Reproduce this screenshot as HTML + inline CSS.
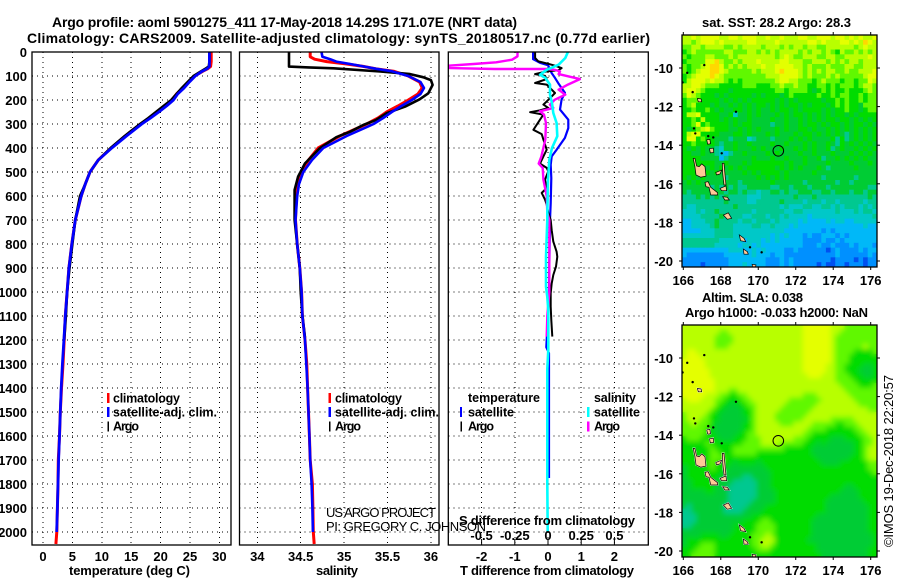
<!DOCTYPE html>
<html lang="en">
<head>
<meta charset="utf-8">
<title>Argo profile</title>
<style>
html,body{margin:0;padding:0;background:#fff;}
svg{display:block;font-family:"Liberation Sans",sans-serif;}
text{fill:#000;}
.b{font-weight:700;font-size:13px;}
.l{font-weight:700;font-size:12.5px;}
.r{font-weight:400;font-size:13px;}
</style>
</head>
<body>
<svg id="chart" width="900" height="580" viewBox="0 0 900 580" xmlns="http://www.w3.org/2000/svg">
  <rect x="0" y="0" width="900" height="580" fill="#fff"/>
  <defs>
    <clipPath id="clip-p1"><rect x="32" y="52" width="199" height="493"/></clipPath>
    <clipPath id="clip-p2"><rect x="239.5" y="52" width="199.5" height="493"/></clipPath>
    <clipPath id="clip-p3"><rect x="448.3" y="52" width="200" height="493"/></clipPath>
    <clipPath id="clip-m1"><rect x="682" y="35" width="195" height="232"/></clipPath>
    <clipPath id="clip-m2"><rect x="682" y="325" width="195" height="232"/></clipPath>
    <filter id="smooth-field" x="-5%" y="-5%" width="110%" height="110%"><feGaussianBlur stdDeviation="2.6"/></filter>
  </defs>

  <text class="b" x="52" y="27" style="font-size:14px" textLength="465" lengthAdjust="spacing">Argo profile: aoml 5901275_411 17-May-2018 14.29S 171.07E (NRT data)</text>
  <text class="b" x="27" y="43" style="font-size:14px" textLength="623" lengthAdjust="spacing">Climatology: CARS2009. Satellite-adjusted climatology: synTS_20180517.nc (0.77d earlier)</text>

  <g id="panels"></g>
  <g id="maps"></g>

  <text class="b" x="69" y="575" textLength="121" lengthAdjust="spacing">temperature (deg C)</text>
  <text class="b" x="316" y="575" textLength="42" lengthAdjust="spacing">salinity</text>
  <text class="b" x="460" y="575" textLength="174" lengthAdjust="spacing">T difference from climatology</text>
  <text class="b" x="459" y="525" textLength="176" lengthAdjust="spacing">S difference from climatology</text>

  <text class="r" x="326" y="517" textLength="110" lengthAdjust="spacing">US ARGO PROJECT</text>
  <text class="r" x="326" y="531" textLength="160" lengthAdjust="spacing">PI: GREGORY C. JOHNSON</text>

  <g>
    <rect x="107" y="393" width="2.5" height="10" fill="#f00"/>
    <text class="l" x="113" y="402.5" textLength="67" lengthAdjust="spacing">climatology</text>
    <rect x="107" y="407" width="2.5" height="10" fill="#00f"/>
    <text class="l" x="113" y="416.5" textLength="104" lengthAdjust="spacing">satellite-adj. clim.</text>
    <rect x="107.5" y="421.5" width="1.5" height="10" fill="#000"/>
    <text class="l" x="113" y="430.5" textLength="26" lengthAdjust="spacing">Argo</text>
  </g>
  <g>
    <rect x="328.5" y="393" width="2.5" height="10" fill="#f00"/>
    <text class="l" x="335" y="402.5" textLength="67" lengthAdjust="spacing">climatology</text>
    <rect x="328.5" y="407" width="2.5" height="10" fill="#00f"/>
    <text class="l" x="335" y="416.5" textLength="104" lengthAdjust="spacing">satellite-adj. clim.</text>
    <rect x="329" y="421.5" width="1.5" height="10" fill="#000"/>
    <text class="l" x="335" y="430.5" textLength="26" lengthAdjust="spacing">Argo</text>
  </g>
  <g>
    <text class="l" x="468" y="402" textLength="72" lengthAdjust="spacing">temperature</text>
    <rect x="460" y="407" width="2" height="10" fill="#00f"/>
    <text class="l" x="468" y="416.5" textLength="46" lengthAdjust="spacing">satellite</text>
    <rect x="460.5" y="421.5" width="1.5" height="10" fill="#000"/>
    <text class="l" x="468" y="430.5" textLength="26" lengthAdjust="spacing">Argo</text>
    <text class="l" x="594" y="402" textLength="42" lengthAdjust="spacing">salinity</text>
    <rect x="587" y="407" width="2.5" height="10" fill="#0ff"/>
    <text class="l" x="594" y="416.5" textLength="46" lengthAdjust="spacing">satellite</text>
    <rect x="587" y="421.5" width="2.5" height="10" fill="#f0f"/>
    <text class="l" x="594" y="430.5" textLength="26" lengthAdjust="spacing">Argo</text>
  </g>

  <text class="b" x="702" y="27" textLength="149" lengthAdjust="spacing">sat. SST: 28.2 Argo: 28.3</text>
  <text class="b" x="702" y="302" textLength="101" lengthAdjust="spacing">Altim. SLA: 0.038</text>
  <text class="b" x="685" y="317" textLength="183" lengthAdjust="spacing">Argo h1000: -0.033 h2000: NaN</text>
  <text class="r" transform="translate(893,547) rotate(-90)" x="0" y="0" textLength="172" lengthAdjust="spacing">©IMOS 19-Dec-2018 22:20:57</text>
</svg>

<script>
/* ---------- axis tick labels ---------- */
const depthTicks = [0,100,200,300,400,500,600,700,800,900,1000,1100,1200,1300,1400,1500,1600,1700,1800,1900,2000];
const temperatureTicks = [0,5,10,15,20,25,30];
const salinityTicks = [34,34.5,35,35.5,36];
const tDiffTicks = [-2,-1,0,1,2];
const sDiffTicks = [-0.5,-0.25,0,0.25,0.5];
const sDiffTickLabels = ['-0.5','-0.25','0','0.25','0.5'];
const mapLonTicks = [166,168,170,172,174,176];
const mapLatTicks = [-10,-12,-14,-16,-18,-20];

/* ---------- temperature profile ---------- */
const tempDepths = [0,20,40,60,70,80,100,125,150,175,200,225,250,275,300,350,400,450,500,550,600,700,800,900,1000,1100,1200,1300,1400,1500,1600,1700,1800,1900,2000,2050];
const tempClimatology = [28.6,28.6,28.6,28.5,28.0,27.2,25.8,24.8,23.8,22.7,21.9,20.7,19.5,18.1,16.6,14.0,11.6,9.4,8.0,7.2,6.5,5.5,4.9,4.4,4.1,3.8,3.6,3.4,3.15,2.95,2.8,2.6,2.55,2.45,2.35,2.2];
const tempSatellite = [28.3,28.3,28.3,28.3,27.9,27.1,25.9,24.9,24.0,22.9,22.2,21.0,19.7,18.3,16.8,14.2,11.7,9.4,8.0,7.2,6.5,5.5,4.9,4.4,4.1,3.8,3.55,3.3,3.1,2.95,2.8,2.65,2.55,2.45,2.33];
const tempArgo = [28.3,28.3,28.3,28.2,27.6,26.9,25.6,24.6,23.6,22.7,21.8,20.5,19.2,17.9,16.5,13.9,11.5,9.4,8.0,7.2,6.3,5.5,5.0,4.5,4.1,3.9,3.6];

/* ---------- salinity profile ---------- */
const salDepths = [0,20,30,40,50,60,70,80,100,125,150,175,200,225,250,275,300,350,400,450,500,550,600,700,800,900,1000,1100,1200,1300,1400,1500,1600,1700,1800,1900,2000,2050];
const salClimatology = [34.61,34.61,34.66,34.8,35.03,35.22,35.37,35.57,35.74,35.87,35.9,35.85,35.74,35.62,35.49,35.39,35.26,34.95,34.70,34.59,34.51,34.47,34.45,34.44,34.46,34.49,34.51,34.52,34.55,34.57,34.58,34.59,34.6,34.61,34.635,34.64,34.645,34.655];
const salSatellite = [34.74,34.75,34.84,34.91,35.07,35.22,35.37,35.55,35.74,35.88,35.92,35.88,35.78,35.66,35.55,35.45,35.34,35.03,34.76,34.63,34.53,34.48,34.46,34.44,34.46,34.49,34.51,34.52,34.55,34.565,34.58,34.59,34.6,34.61,34.625,34.635,34.64];
const salArgoDepths = [0,55,61,64,68,82,92,105,117,137,172,197,228,255,283,304,332,355,401,464,519,575,600,700,800,900,1000,1100,1190];
const salArgo = [34.365,34.365,34.365,34.59,34.88,35.45,35.76,35.91,36.0,36.02,35.97,35.87,35.7,35.49,35.37,35.22,35.07,34.91,34.72,34.55,34.47,34.43,34.43,34.43,34.46,34.49,34.5,34.52,34.55];

/* ---------- differences from climatology ---------- */
const dTSatDepths = [0,30,45,55,88,108,130,170,198,240,282,317,358,407,435,470,525,630,700,1000,1150,1230,1255,1775];
const dTSat = [-0.45,-0.45,-0.24,0,0.11,0.21,0.31,0.51,0.41,0.36,0.61,0.61,0.51,0.26,0.11,0.08,0.1,0.08,0.06,0.03,-0.02,-0.05,0.03,0.03];
const dTArgoDepths = [0,25,39,49,57,67,76,81,92,99,113,129,136,171,185,206,219,233,243,251,261,282,324,342,365,407,435,465,483,497,532,567,587,615,636,671,700,742,790,832,853,894,929,964,1005,1061,1117,1186];
const dTArgo = [-0.39,-0.39,-0.29,0.01,0.21,0.41,0.31,-0.04,-0.39,-0.09,-0.04,-0.39,-0.04,0.21,0.11,-0.04,-0.14,0.01,-0.24,-0.54,-0.14,-0.24,-0.44,-0.19,-0.14,-0.04,-0.14,-0.24,-0.04,0.01,-0.09,-0.04,-0.19,-0.09,-0.04,0.01,0.08,0.11,0.16,0.26,0.28,0.24,0.16,0.11,0.08,0.08,0.10,0.13];
const dSSatDepths = [0,25,53,74,95,108,136,178,213,254,296,351,400,449,532,671,700,853,978,1020,1075,1240,1320,1700,1800,2000];
const dSSat = [0.15,0.13,0.08,-0.01,-0.06,-0.02,0.015,0.015,0.03,0.04,0.065,0.07,0.03,0.01,0,-0.005,-0.005,-0.015,-0.015,-0.005,0.002,0.002,-0.005,-0.005,-0.005,-0.002];
const dSArgoDepths = [0,18,32,43,50,57,67,71,71,74,81,92,113,136,157,178,199,219,233,247,261,296,365,435,465,483,532,601,671,700,800,1000,1100,1186];
const dSArgo = [-0.23,-0.23,-0.27,-0.39,-0.56,-0.75,-0.74,-0.40,-0.01,0.05,0.09,0.08,0.24,0.15,0.08,0.13,0.05,0.015,0.04,-0.06,-0.03,-0.015,-0.02,-0.05,-0.07,-0.04,-0.035,-0.01,-0.005,0.01,0.01,0.01,-0.005,-0.01];

/* ---------- map fields: one hex level per 0.25 degree cell, north to south ---------- */
const sstRows = [
"889899 998899 899988 988988 899889 998998 989889",
"887899 989888 889988 889888 888998 988899 898a98",
"778878 888778 788887 888787 887887 788888 878988",
"678777 777887 778878 787888 878788 787687 787878",
"767778 877787 888888 887898 778887 788778 888898",
"677779 9a8778 788898 888998 887788 878787 887888",
"767789 aa9787 878889 889999 887877 787778 877888",
"767899 aa9877 777878 889a99 987878 788778 778889",
"678999 a98777 777777 888999 987877 787877 777899",
"689998 988767 677777 778998 877767 877767 767798",
"889987 776666 677766 677877 877667 767677 767887",
"899876 666656 666666 667767 777656 767667 666787",
"798766 656566 666565 666567 666667 667677 667677",
"677766 665656 565666 665656 566666 566767 667677",
"678666 565565 656566 565656 656566 656767 665777",
"667667 656556 656565 565665 656666 565667 665677",
"688966 665563 556565 556565 665656 565665 656666",
"667686 665656 556555 565565 565656 566566 565656",
"667967 666656 566555 545565 565665 656656 566565",
"656789 766655 656565 556565 566565 565656 565656",
"689966 665556 656555 656555 656656 565654 565656",
"699676 655545 553455 545556 565655 556464 565656",
"667666 654556 556555 565565 556565 565465 656565",
"656565 543556 555656 555655 656565 564565 565656",
"665565 543245 565555 656555 565565 556555 656565",
"666655 552455 555655 565565 556556 455656 565655",
"666666 655655 565666 666656 556555 565555 655565",
"666665 656565 656666 665656 565556 545555 565555",
"666656 565555 565656 666565 555565 555555 555555",
"656565 555455 555565 656565 555555 455555 545555",
"565655 555555 455555 565555 554555 555455 455555",
"555555 454545 445555 544554 555455 545555 555544",
"545555 555455 454434 455454 455544 554555 455455",
"444545 454544 443334 444444 544454 444444 444454",
"444444 444544 443344 444544 443444 344344 444344",
"433444 444445 444444 444343 334433 443434 443434",
"333434 454444 444344 444433 443333 333433 343443",
"333344 445444 433444 344343 333233 333333 333334",
"223334 454444 344344 434333 323222 232332 233333",
"223333 454443 333443 343332 322222 222222 222322",
"222233 344443 333333 333322 222222 121222 222222",
"333333 344443 333333 323232 221211 222121 222222",
"444444 443333 323332 323222 221111 211212 222222",
"444444 433333 233232 222222 221112 112111 212221",
"222222 222233 322323 222211 211111 101211 112122",
"211111 111222 222322 212211 111111 111211 111121",
"111111 111122 222222 111212 111111 110111 101011",
"111101 111122 232222 111212 111110 100110 111011"
];
const slaRows = [
"888888 888888 888888 888888 889999 998887 777777",
"888888 887788 888888 888888 889999 998877 777777",
"888888 877778 888888 888888 889999 998777 777777",
"888888 877778 888888 888888 889999 998777 777777",
"888888 877788 888888 888888 889999 998777 777877",
"899888 888888 888888 888888 889999 998777 766667",
"899988 888888 888888 888888 889999 998777 666666",
"999998 888888 888888 888888 889999 998777 666666",
"999998 888888 888888 888888 889999 988776 666556",
"999999 888888 888888 888888 889999 988776 665556",
"999999 888888 888888 888888 888999 888777 666556",
"999999 988888 888888 888888 888888 888777 766666",
"999999 988888 888888 888888 888888 888877 776667",
"999999 988877 888888 888888 888888 888887 777777",
"999998 887766 778888 888888 887778 888888 777777",
"899988 877666 677888 888887 777777 888888 877777",
"888888 876655 667788 888877 777778 888888 887777",
"888888 766555 566788 888777 777788 888888 888877",
"788887 665555 566788 887777 777888 888888 888888",
"788877 665555 556788 887777 778888 887777 788888",
"778777 655555 566788 888777 888877 777667 778888",
"777776 655555 566788 888888 888777 766666 677888",
"777776 655555 667788 888888 887766 666666 667788",
"677766 665556 667778 888888 777666 665556 666778",
"666667 666666 677778 888777 776665 655555 566778",
"666666 766667 777777 777766 666655 555555 566788",
"666666 776667 777766 666666 666655 555555 566788",
"666666 777666 666666 666666 666665 555555 666788",
"666666 766665 666656 666666 666666 555566 666677",
"566666 766655 555555 666666 666666 666666 666677",
"566666 666555 555555 566666 666666 666666 666667",
"566666 665555 544555 566666 666666 666666 666666",
"556666 655554 444455 566666 666666 666666 666666",
"556666 655544 444455 566666 666666 666665 566666",
"555556 655544 444455 556666 666666 666655 556666",
"555555 555544 444455 556666 666666 665555 556666",
"555555 555544 444555 556666 666666 655555 555666",
"545555 555444 445555 666666 666666 655555 555566",
"445555 555444 455556 666666 666666 655555 555566",
"444555 555555 555666 666666 666665 555555 555566",
"444555 555555 566667 766666 666655 555555 555566",
"445555 555556 666677 776666 666655 555555 555566",
"555555 555556 666677 776666 666655 555555 555566",
"555566 665566 666777 876666 666655 555555 555556",
"566666 666666 666778 886666 666555 555555 555556",
"566677 766666 666778 876666 666665 555555 555556",
"666777 766666 666677 766666 666665 555555 555566",
"667777 766666 666666 666666 666666 555555 555566"
];

/* ---------- coastlines in lon / lat ---------- */
const islandNames = ['santo','ambae','malekula','pentecost','ambrym','epi','efate','erromango','tanna','aneityum','gaua','vanua-lava','vanikoro'];
const islandLons = [
  [166.53,166.62,166.68,166.93,167.21,167.16,166.98,166.85,166.71,166.62],
  [167.73,168.05,167.96,167.78],
  [167.16,167.33,167.46,167.83,167.83,167.46,167.37,167.21],
  [168.08,168.17,168.22,168.28,168.17,168.10],
  [167.96,168.28,168.31,168.05],
  [168.10,168.35,168.46,168.22],
  [168.14,168.40,168.58,168.35],
  [168.99,169.24,169.33,169.06],
  [169.20,169.42,169.47,169.24],
  [169.67,169.88,169.85,169.70],
  [167.40,167.60,167.62,167.44],
  [167.25,167.42,167.45,167.30],
  [166.75,166.95,166.98,166.80]
];
const islandLats = [
  [-14.68,-15.11,-15.54,-15.66,-15.60,-15.11,-14.97,-15.11,-15.08,-14.68],
  [-15.42,-15.29,-15.49,-15.54],
  [-15.92,-15.89,-16.18,-16.46,-16.58,-16.58,-16.18,-16.15],
  [-14.94,-14.94,-15.46,-16.06,-16.06,-15.46],
  [-16.24,-16.11,-16.36,-16.36],
  [-16.67,-16.70,-16.84,-16.84],
  [-17.62,-17.50,-17.79,-17.84],
  [-18.65,-18.83,-19.00,-18.95],
  [-19.38,-19.52,-19.65,-19.65],
  [-20.17,-20.20,-20.33,-20.33],
  [-14.18,-14.15,-14.38,-14.40],
  [-13.72,-13.70,-13.92,-13.95],
  [-11.58,-11.60,-11.75,-11.75]
];
const isletLons = [170.18,169.56,168.05,165.96,166.21,167.12,166.5,166.57,166.64,168.81,167.33,167.6];
const isletLats = [-19.55,-19.29,-14.42,-10.75,-10.25,-9.85,-11.25,-13.13,-13.39,-12.27,-13.53,-13.6];
const argoLon = 171.07;
const argoLat = -14.29;

/* ---------- scales ---------- */
const depthY = d => 52 + d * 0.24;
const tempX = t => 43 + t * 5.88;
const salX = s => 257.3 + (s - 34) * 86.8;
const tDiffX = v => 548 + v * 33.2;
const sDiffX = v => 548 + v * 132.8;
const levelColor = ['#0050f0','#0090ff','#00b8f8','#00c8c8','#00c890','#00cc34','#00dc00','#60f800','#b8ff00','#e4ff00','#ffd800'];

const SVGNS = 'http://www.w3.org/2000/svg';
const make = (tag, parent) => { const n = document.createElementNS(SVGNS, tag); parent.appendChild(n); return n; };
const setAll = (n, o) => { for (const k in o) n.setAttribute(k, o[k]); return n; };

const panels = document.getElementById('panels');
const maps = document.getElementById('maps');

function drawFrame(parent, x0, x1, xs) {
  const grid = make('g', parent);
  
  
  grid.setAttribute('shape-rendering', 'crispEdges');
  depthTicks.forEach(d => {
    const l = make('line', grid);
    
    
    setAll(l, {x1: x0, x2: x1, y1: depthY(d), y2: depthY(d), stroke: '#000', 'stroke-width': 1, 'stroke-dasharray': '1 4'});
  });
  xs.forEach(x => {
    const l = make('line', grid);
    
    
    setAll(l, {x1: x, x2: x, y1: 52, y2: 545, stroke: '#000', 'stroke-width': 1, 'stroke-dasharray': '1 4'});
  });
}
function drawBox(parent, x0, x1) {
  const r = make('rect', parent);
  
  
  setAll(r, {x: x0, y: 52, width: x1 - x0, height: 493, fill: 'none', stroke: '#000', 'stroke-width': 1.3});
}
function drawSeries(parent, name, depths, values, xf, color, w, clip) {
  const pts = values.map((v, i) => xf(v).toFixed(1) + ',' + depthY(depths[i]).toFixed(1)).join(' ');
  const p = make('polyline', parent);
  
  
  setAll(p, {points: pts, fill: 'none', stroke: color, 'stroke-width': w, 'stroke-linejoin': 'round', 'clip-path': 'url(#' + clip + ')'});
}
function drawXLabels(parent, ticks, xf, y, labels) {
  ticks.forEach((t, i) => {
    const n = make('text', parent);
    
    
    setAll(n, {x: xf(t), y: y, 'text-anchor': 'middle', class: 'b'});
    n.textContent = labels ? labels[i] : String(t);
  });
}

/* temperature panel */
const p1 = make('g', panels);


drawFrame(p1, 32, 231, temperatureTicks.map(tempX));
drawSeries(p1, 'temperature-climatology-line', tempDepths, tempClimatology, tempX, '#f00', 3, 'clip-p1');
drawSeries(p1, 'temperature-argo-line', tempDepths, tempArgo, tempX, '#000', 2.6, 'clip-p1');
drawSeries(p1, 'temperature-satellite-line', tempDepths, tempSatellite, tempX, '#00f', 2.8, 'clip-p1');
drawBox(p1, 32, 231);
drawXLabels(p1, temperatureTicks, tempX, 561);
depthTicks.forEach(d => {
  const n = make('text', p1);
  
  
  setAll(n, {x: 27, y: depthY(d) + 5, 'text-anchor': 'end', class: 'b'});
  n.textContent = String(d);
});

/* salinity panel */
const p2 = make('g', panels);


drawFrame(p2, 239.5, 439, salinityTicks.map(salX));
drawSeries(p2, 'salinity-climatology-line', salDepths, salClimatology, salX, '#f00', 3, 'clip-p2');
drawSeries(p2, 'salinity-argo-line', salArgoDepths, salArgo, salX, '#000', 2.6, 'clip-p2');
drawSeries(p2, 'salinity-satellite-line', salDepths, salSatellite, salX, '#00f', 2.6, 'clip-p2');
drawBox(p2, 239.5, 439);
drawXLabels(p2, salinityTicks, salX, 561);

/* difference panel */
const p3 = make('g', panels);


drawFrame(p3, 448.3, 648.3, tDiffTicks.map(tDiffX));
drawSeries(p3, 't-satellite-difference-line', dTSatDepths, dTSat, tDiffX, '#00f', 2.2, 'clip-p3');
drawSeries(p3, 't-argo-difference-line', dTArgoDepths, dTArgo, tDiffX, '#000', 2, 'clip-p3');
drawSeries(p3, 's-argo-difference-line', dSArgoDepths, dSArgo, sDiffX, '#f0f', 2.4, 'clip-p3');
drawSeries(p3, 's-satellite-difference-line', dSSatDepths, dSSat, sDiffX, '#0ff', 2.6, 'clip-p3');
drawBox(p3, 448.3, 648.3);
tDiffTicks.forEach(t => {
  const l = make('line', p3);
  
  
  setAll(l, {x1: tDiffX(t), x2: tDiffX(t), y1: 539, y2: 545, stroke: '#000', 'stroke-width': 1});
});
drawXLabels(p3, tDiffTicks, tDiffX, 561);
drawXLabels(p3, sDiffTicks, sDiffX, 540, sDiffTickLabels);

/* heat cells */
function drawCells(parent, rows, yTop) {
  const cw = 195 / 42, ch = 232 / 48;
  rows.forEach((raw, r) => {
    const levels = raw.replace(/ /g, '');
    for (let c = 0; c < levels.length; c++) {
      const cell = make('rect', parent);
      
      
      setAll(cell, {x: (682 + c * cw).toFixed(2), y: (yTop + r * ch).toFixed(2), width: (cw + 0.4).toFixed(2), height: (ch + 0.4).toFixed(2), fill: levelColor[parseInt(levels[c], 16)]});
    }
  });
}

/* maps */
function drawMap(name, rows, yTop, y10, clip, smooth) {
  const lonX = lon => 683.3 + (lon - 166) * 18.74;
  const latY = lat => y10 + (-10 - lat) * 19.3;
  const g = make('g', maps);
  
  
  const cells = make('g', g);
  
  
  cells.setAttribute('clip-path', 'url(#' + clip + ')');
  drawCells(cells, rows, yTop);
  if (smooth) {
    const soft = make('g', cells);
    
    
    soft.setAttribute('filter', 'url(#smooth-field)');
    drawCells(soft, rows, yTop);
  }
  const coast = make('g', g);
  
  
  coast.setAttribute('clip-path', 'url(#' + clip + ')');
  islandLons.forEach((lons, i) => {
    const pts = lons.map((lon, j) => lonX(lon).toFixed(1) + ',' + latY(islandLats[i][j]).toFixed(1)).join(' ');
    if (smooth) {
      const h = make('polygon', coast);
      
      
      setAll(h, {points: pts, fill: '#fff', stroke: '#fff', 'stroke-width': 1.4});
    }
    const isl = make('polygon', coast);
    
    
    setAll(isl, {points: pts, fill: '#ffc896', stroke: '#000', 'stroke-width': 0.7});
  });
  isletLons.forEach((lon, i) => {
    const d = make('circle', coast);
    
    
    setAll(d, {cx: lonX(lon), cy: latY(isletLats[i]), r: 1.2, fill: '#000'});
  });
  const mark = make('circle', g);
  
  
  setAll(mark, {cx: lonX(argoLon), cy: latY(argoLat), r: 5.3, fill: 'none', stroke: '#000', 'stroke-width': 1});
  const box = make('rect', g);
  
  
  setAll(box, {x: 682, y: yTop, width: 195, height: 232, fill: 'none', stroke: '#000', 'stroke-width': 1.3});
  mapLonTicks.forEach(lon => {
    const a = make('line', g);
    
    
    setAll(a, {x1: lonX(lon), x2: lonX(lon), y1: yTop - 3, y2: yTop, stroke: '#000', 'stroke-width': 1});
    const b = make('line', g);
    
    
    setAll(b, {x1: lonX(lon), x2: lonX(lon), y1: yTop + 232, y2: yTop + 235, stroke: '#000', 'stroke-width': 1});
    const t = make('text', g);
    
    
    setAll(t, {x: lonX(lon), y: yTop + 250, 'text-anchor': 'middle', class: 'b'});
    t.textContent = String(lon);
  });
  mapLatTicks.forEach(lat => {
    const a = make('line', g);
    
    
    setAll(a, {x1: 877, x2: 880, y1: latY(lat), y2: latY(lat), stroke: '#000', 'stroke-width': 1});
    const b = make('line', g);
    
    
    setAll(b, {x1: 679, x2: 682, y1: latY(lat), y2: latY(lat), stroke: '#000', 'stroke-width': 1});
    const t = make('text', g);
    
    
    setAll(t, {x: 673, y: latY(lat) + 5, 'text-anchor': 'end', class: 'b'});
    t.textContent = String(lat);
  });
}
drawMap('sst-map', sstRows, 35, 68, 'clip-m1', false);
drawMap('altimetry-map', slaRows, 325, 358, 'clip-m2', true);
</script>
</body>
</html>
